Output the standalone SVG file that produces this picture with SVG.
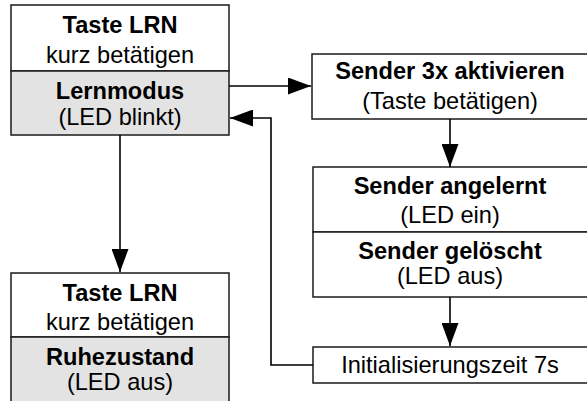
<svg xmlns="http://www.w3.org/2000/svg" width="587" height="401" viewBox="0 0 587 401">
<defs>
<style>
.box{fill:#fff;stroke:#1a1a1a;stroke-width:1.5}
.grey{fill:#e3e3e3;stroke:#1a1a1a;stroke-width:1.5}
.t{font-family:"Liberation Sans",Arial,sans-serif;font-size:23.6px;fill:#000;text-anchor:middle}
.b{font-weight:bold}
.ln{fill:none;stroke:#000;stroke-width:1.6}
</style>
<marker id="ah" markerWidth="23" markerHeight="17" refX="23" refY="8.5" orient="auto" markerUnits="userSpaceOnUse">
<path d="M0,0 L23,8.5 L0,17 Z" fill="#000"/>
</marker>
</defs>
<g id="node-lernmodus">
<rect class="box" x="11" y="5" width="218" height="66"/>
<rect class="grey" x="11" y="71" width="218" height="64"/>
<text class="t b" x="120" y="33">Taste LRN</text>
<text class="t" x="120" y="63">kurz betätigen</text>
<text class="t b" x="120" y="99">Lernmodus</text>
<text class="t" x="120" y="125">(LED blinkt)</text>
</g>
<g id="node-sender3x">
<rect class="box" x="312" y="54" width="277" height="65"/>
<text class="t b" x="450" y="79">Sender 3x aktivieren</text>
<text class="t" x="450" y="109">(Taste betätigen)</text>
</g>
<g id="node-sender-status">
<rect class="box" x="313" y="167" width="276" height="65"/>
<rect class="box" x="313" y="232" width="276" height="65"/>
<text class="t b" x="450" y="194">Sender angelernt</text>
<text class="t" x="450" y="223">(LED ein)</text>
<text class="t b" x="450" y="259">Sender gelöscht</text>
<text class="t" x="450" y="284">(LED aus)</text>
</g>
<g id="node-init">
<rect class="box" x="313" y="347" width="276" height="36"/>
<text class="t" x="450" y="373">Initialisierungszeit 7s</text>
</g>
<g id="node-ruhezustand">
<rect class="box" x="11" y="273" width="218" height="64"/>
<rect class="grey" x="11" y="337" width="218" height="70"/>
<text class="t b" x="120" y="301">Taste LRN</text>
<text class="t" x="120" y="330">kurz betätigen</text>
<text class="t b" x="120" y="365">Ruhezustand</text>
<text class="t" x="120" y="390">(LED aus)</text>
</g>
<g id="connectors">
<line class="ln" x1="229" y1="86" x2="311" y2="86" marker-end="url(#ah)"/>
<line class="ln" x1="450" y1="119" x2="450" y2="167" marker-end="url(#ah)"/>
<line class="ln" x1="450" y1="297" x2="450" y2="346" marker-end="url(#ah)"/>
<polyline class="ln" points="313,365 271,365 271,118 230,118" marker-end="url(#ah)"/>
<line class="ln" x1="120" y1="135" x2="120" y2="272" marker-end="url(#ah)"/>
</g>
</svg>
